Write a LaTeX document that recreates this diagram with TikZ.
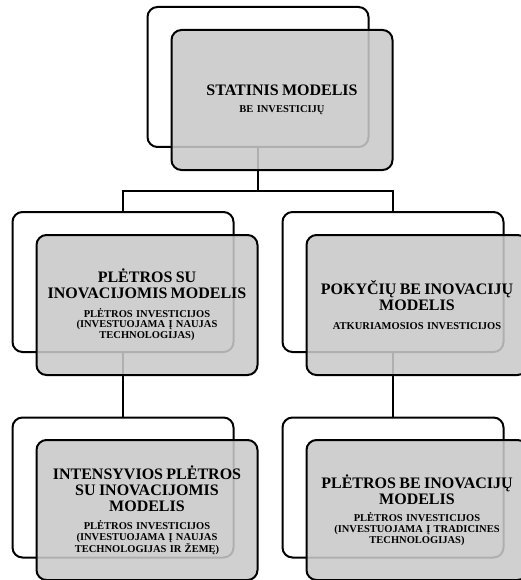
\documentclass[tikz,border=0pt]{standalone}
\usepackage{fontspec}
\setmainfont{Liberation Serif}
\newcommand\ttlf{\fontsize{16}{16}\selectfont\bfseries}
\newcommand\subtf{\fontsize{10.5}{10.8}\selectfont\bfseries}
\begin{document}
\begin{tikzpicture}[x=1pt,y=-1pt,
  boxbase/.style={rectangle, line width=2pt, rounded corners=10pt, draw=black,
    minimum width=221pt, minimum height=140pt, inner sep=0pt, outer sep=0pt},
  backbox/.style={boxbase, fill=white},
  frontbox/.style={boxbase, fill=black!21, fill opacity=0.875, text opacity=1,
    text width=212pt, align=center},
  conn/.style={line width=2pt, draw=black}]
\useasboundingbox (0,0) rectangle (521,580);
% back boxes
\node[backbox] (tb) at (258,77) {};
\node[backbox] (lb) at (123,282) {};
\node[backbox] (rb) at (393,282) {};
\node[backbox] (blb) at (123,487.5) {};
\node[backbox] (brb) at (393,487.5) {};
% connectors
\coordinate (j) at (258,191);
\draw[conn] (tb.south) -- (tb.south |- j);
\draw[conn] (lb.north) -- (lb.north |- j) -- (rb.north |- j) -- (rb.north);
\draw[conn] (lb.south) -- (blb.north);
\draw[conn] (rb.south) -- (brb.north);
% front boxes
\node[frontbox] (tf) at (282,100) {{\ttlf STATINIS MODELIS\par}\vskip 6.5pt{\subtf BE INVESTICIJŲ\par}};
\node[frontbox] (lf) at (147,305) {{\ttlf PLĖTROS SU\\INOVACIJOMIS MODELIS\par}\vskip 7.5pt{\subtf PLĖTROS INVESTICIJOS\\(INVESTUOJAMA Į NAUJAS\\TECHNOLOGIJAS)\par}};
\node[frontbox] (rf) at (417,305) {{\ttlf POKYČIŲ BE INOVACIJŲ\\MODELIS\par}\vskip 8pt{\subtf ATKURIAMOSIOS INVESTICIJOS\par}};
\node[frontbox] (blf) at (147,510) {{\ttlf INTENSYVIOS PLĖTROS\\SU INOVACIJOMIS\\MODELIS\par}\vskip 7.5pt{\subtf PLĖTROS INVESTICIJOS\\(INVESTUOJAMA Į NAUJAS\\TECHNOLOGIJAS IR ŽEMĘ)\par}};
\node[frontbox] (brf) at (417,510) {{\ttlf PLĖTROS BE INOVACIJŲ\\MODELIS\par}\vskip 6.5pt{\subtf PLĖTROS INVESTICIJOS\\(INVESTUOJAMA Į TRADICINES\\TECHNOLOGIJAS)\par}};
\end{tikzpicture}
\end{document}
